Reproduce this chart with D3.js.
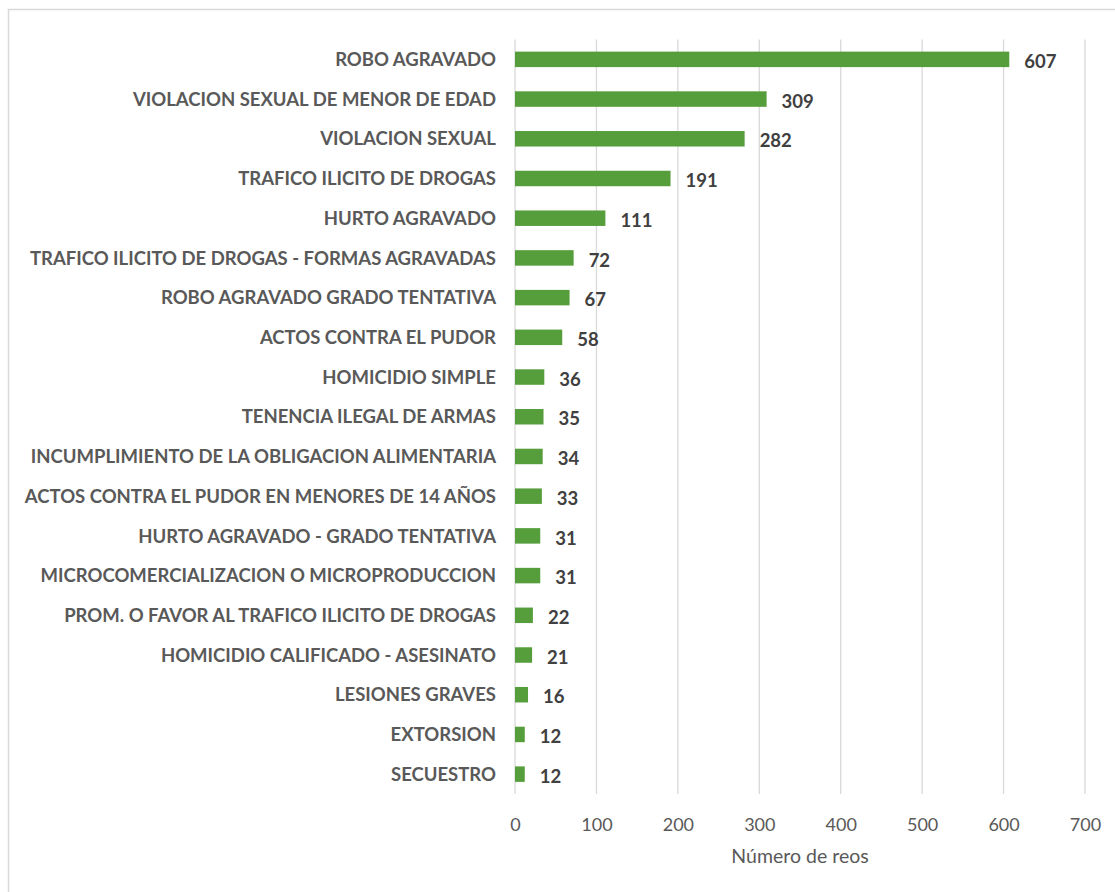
<!DOCTYPE html>
<html>
<head>
<meta charset="utf-8">
<script src="https://cdn.jsdelivr.net/npm/d3@7"></script>
<style>
  body { margin: 0; background: #fff; }
  text { font-family: Lato, "Open Sans", sans-serif; }
</style>
</head>
<body>
<script>
// categories and counts, top to bottom as in the chart
var delitos = [
    "ROBO AGRAVADO",
    "VIOLACION SEXUAL DE MENOR DE EDAD",
    "VIOLACION SEXUAL",
    "TRAFICO ILICITO DE DROGAS",
    "HURTO AGRAVADO",
    "TRAFICO ILICITO DE DROGAS - FORMAS AGRAVADAS",
    "ROBO AGRAVADO GRADO TENTATIVA",
    "ACTOS CONTRA EL PUDOR",
    "HOMICIDIO SIMPLE",
    "TENENCIA ILEGAL DE ARMAS",
    "INCUMPLIMIENTO DE LA OBLIGACION ALIMENTARIA",
    "ACTOS CONTRA EL PUDOR EN MENORES DE 14 AÑOS",
    "HURTO AGRAVADO - GRADO TENTATIVA",
    "MICROCOMERCIALIZACION O MICROPRODUCCION",
    "PROM. O FAVOR AL TRAFICO ILICITO DE DROGAS",
    "HOMICIDIO CALIFICADO - ASESINATO",
    "LESIONES GRAVES",
    "EXTORSION",
    "SECUESTRO"
];
var reos = [607, 309, 282, 191, 111, 72, 67, 58, 36, 35, 34, 33, 31, 31, 22, 21, 16, 12, 12];
var ticks = [0, 100, 200, 300, 400, 500, 600, 700];
var axisTitle = "Número de reos";

var width = 1115, height = 892;

var svg = d3.select("body").append("svg")
    .attr("width", width)
    .attr("height", height);

// chart frame
svg.append("rect")
    .attr("x", 8.5).attr("y", 9.5)
    .attr("width", width).attr("height", height)
    .style("fill", "#fff")
    .style("stroke", "#d9d9d9")
    .style("stroke-width", 1.5);

var x = d3.scaleLinear().domain([0, 700]).range([515, 1085]);
var y = d3.scaleBand().domain(delitos).range([39.5, 794]).paddingInner(0.61).paddingOuter(0.305);

// vertical gridlines
svg.append("g").selectAll("line")
    .data(ticks)
    .enter().append("line")
    .attr("x1", d => x(d)).attr("x2", d => x(d))
    .attr("y1", 39.5).attr("y2", 794)
    .style("stroke", "#d9d9d9")
    .style("stroke-width", 1.3);

// x axis labels via d3.axisBottom, domain and ticks hidden
var xAxis = svg.append("g")
    .attr("transform", "translate(0,818)")
    .call(d3.axisBottom(x).tickValues(ticks).tickSize(0).tickPadding(0));
xAxis.select(".domain").remove();
xAxis.selectAll("text")
    .attr("dy", "0.71em")
    .style("font-family", "Lato, 'Open Sans', sans-serif")
    .style("font-size", "18px")
    .style("fill", "#595959");

svg.append("text")
    .attr("x", (x(0) + x(700)) / 2)
    .attr("y", 863)
    .attr("text-anchor", "middle")
    .style("font-size", "19.5px")
    .style("fill", "#595959")
    .text(axisTitle);

// bars
svg.append("g").selectAll("rect")
    .data(delitos)
    .enter().append("rect")
    .attr("x", x(0))
    .attr("y", d => y(d))
    .attr("width", (d, i) => x(reos[i]) - x(0))
    .attr("height", y.bandwidth())
    .style("fill", "#559e3b");

// category labels
svg.append("g").selectAll("text")
    .data(delitos)
    .enter().append("text")
    .attr("x", 496)
    .attr("y", d => y(d) + y.bandwidth() / 2)
    .attr("dy", "0.36em")
    .attr("text-anchor", "end")
    .style("font-size", "18.5px")
    .style("font-weight", "bold")
    .style("fill", "#595959")
    .text(d => d);

// value labels
svg.append("g").selectAll("text")
    .data(delitos)
    .enter().append("text")
    .attr("x", (d, i) => x(reos[i]) + 15)
    .attr("y", d => y(d) + y.bandwidth() / 2 + 2)
    .attr("dy", "0.36em")
    .style("font-size", "18.5px")
    .style("font-weight", "bold")
    .style("fill", "#404040")
    .text((d, i) => reos[i]);
</script>
</body>
</html>
